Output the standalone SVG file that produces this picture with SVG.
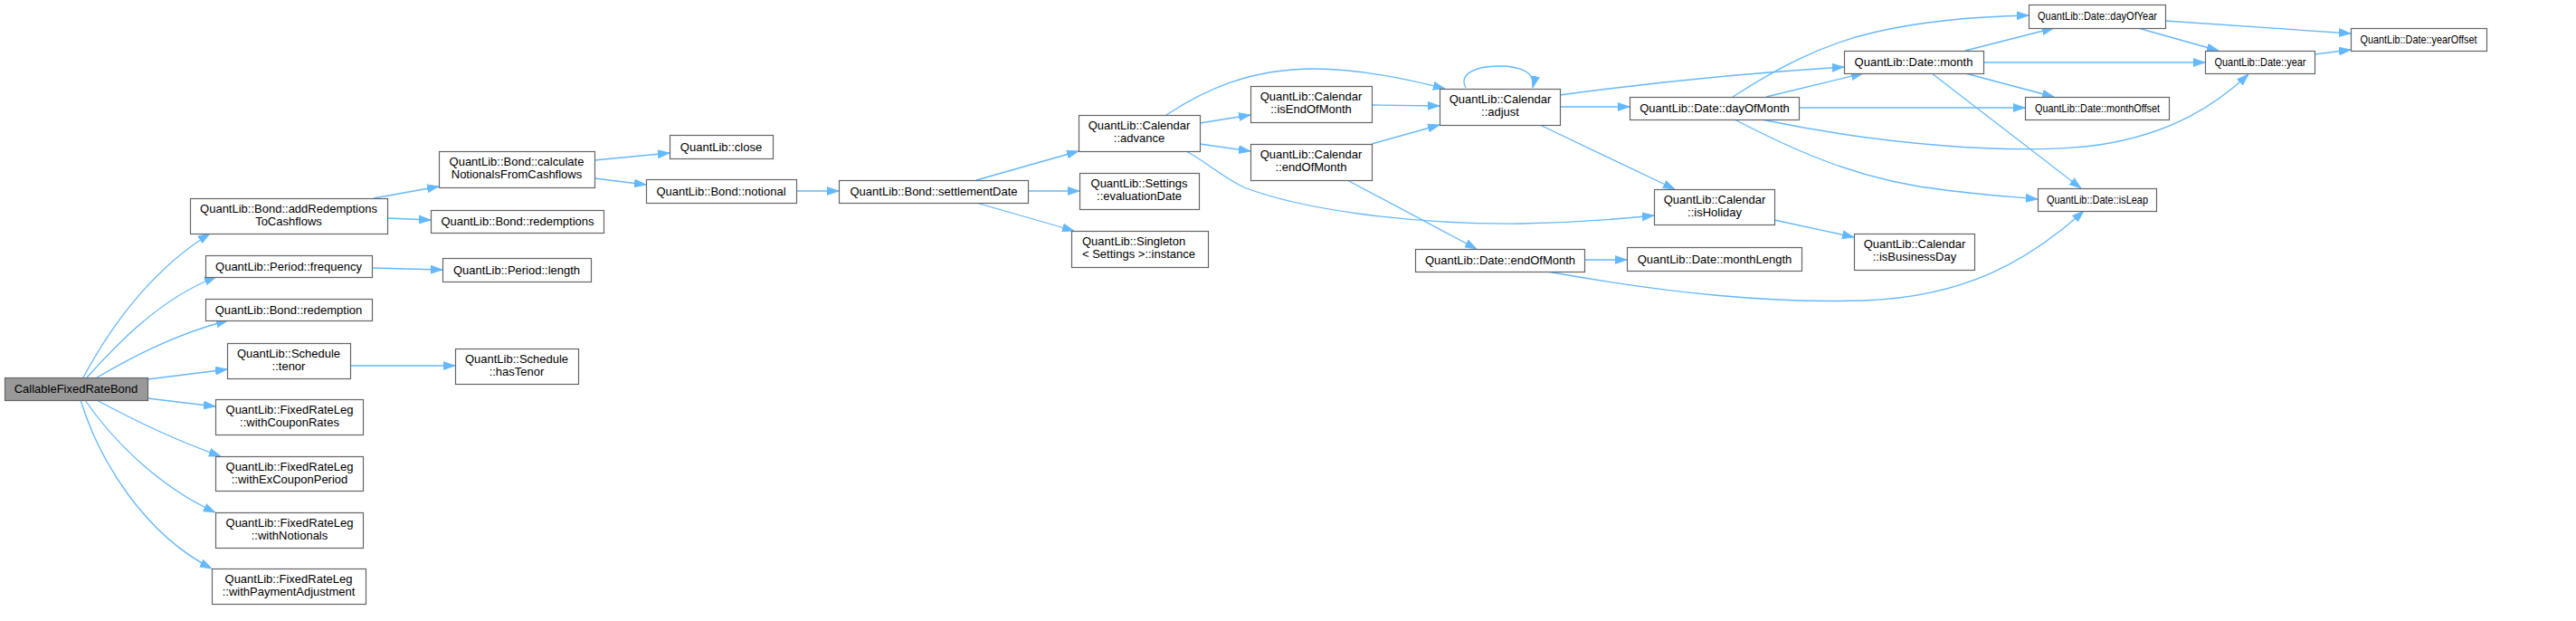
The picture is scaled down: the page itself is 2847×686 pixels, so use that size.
<svg xmlns="http://www.w3.org/2000/svg" width="2847" height="686" viewBox="0 0 2847 686">
<style>
.node rect{fill:#fff;stroke:#666;stroke-width:1.2}
.node.main rect{fill:#999}
.node text{font-family:"Liberation Sans",Arial,sans-serif;font-size:13px;text-anchor:middle;fill:#000}
.node text.l{text-anchor:start}
.edges path{fill:none;stroke:#63b8ff;stroke-width:1.3;marker-end:url(#arr)}
</style>
<defs>
<marker id="arr" markerUnits="userSpaceOnUse" markerWidth="13" markerHeight="10" refX="13" refY="5" orient="auto" viewBox="0 0 13 10">
<path d="M0,0.5 L13,5 L0,9.5 Z" fill="#63b8ff" stroke="#63b8ff" stroke-width="0.8"/>
</marker>
</defs>
<rect width="2847" height="686" fill="#fff"/>
<g class="edges" id="edges">
<path d="M92,417 C120,365 165,300 232,258"/>
<path d="M96,417 C125,385 175,330 239,306"/>
<path d="M107,417 C140,398 190,370 252,354"/>
<path d="M163,419 L251,408"/>
<path d="M163,440 L238,449"/>
<path d="M107,442 C140,460 190,485 244,504"/>
<path d="M94,442 C120,480 170,535 238,566"/>
<path d="M89,442 C110,510 160,590 234,628"/>
<path d="M413,219 L485,206"/>
<path d="M428,241 L476,243"/>
<path d="M411,296 L489,298"/>
<path d="M387,404 L503,404"/>
<path d="M657,177 L740,169"/>
<path d="M657,197 L714,204"/>
<path d="M880,211 L927,211"/>
<path d="M1079,199 L1192,167"/>
<path d="M1136,211 L1193,211"/>
<path d="M1079,224 L1187,255"/>
<path d="M1289,127 C1330,100 1380,76 1453,76 C1500,76 1550,86 1597,98"/>
<path d="M1326,136 L1382,127"/>
<path d="M1326,159 L1382,167"/>
<path d="M1311,167 C1335,180 1350,195 1375,207 C1440,232 1560,248 1680,247 C1740,246 1790,242 1828,238"/>
<path d="M1516,116 L1591,117"/>
<path d="M1516,159 L1591,138"/>
<path d="M1489,199 L1632,275"/>
<path d="M1620,97 C1612,82 1630,73 1657,73 C1680,73 1698,80 1694,97"/>
<path d="M1724,105 C1820,92 1940,80 2038,74"/>
<path d="M1724,118 L1801,118"/>
<path d="M1702,138 L1851,209"/>
<path d="M1751,287 L1798,287"/>
<path d="M1710,300 C1850,325 1960,335 2060,332 C2170,328 2240,290 2303,233"/>
<path d="M1961,243 L2049,262"/>
<path d="M1915,107 C1960,78 2010,50 2070,36 C2130,22 2190,18 2242,17"/>
<path d="M1952,107 L2059,81"/>
<path d="M1988,119 L2238,119"/>
<path d="M1947,132 C2080,160 2230,172 2320,160 C2400,148 2450,115 2485,82"/>
<path d="M1917,132 C1990,170 2060,200 2150,210 C2190,215 2220,217 2252,220"/>
<path d="M2172,56 L2270,31"/>
<path d="M2192,69 L2437,69"/>
<path d="M2172,81 L2270,107"/>
<path d="M2135,81 L2300,208"/>
<path d="M2393,23 L2598,37"/>
<path d="M2363,31 L2452,56"/>
<path d="M2558,60 L2598,55"/>
</g>
<g class="node main" id="n0"><rect x="5.5" y="417.5" width="158" height="25"/><text x="84" y="434">CallableFixedRateBond</text></g>
<g class="node" id="n1"><rect x="210.5" y="219.5" width="218" height="39"/><text x="319" y="235">QuantLib::Bond::addRedemptions</text><text x="319" y="249">ToCashflows</text></g>
<g class="node" id="n2"><rect x="485.5" y="167.5" width="172" height="40"/><text x="571" y="183">QuantLib::Bond::calculate</text><text x="571" y="197">NotionalsFromCashflows</text></g>
<g class="node" id="n3"><rect x="740.5" y="149.5" width="114" height="26"/><text x="797" y="167">QuantLib::close</text></g>
<g class="node" id="n4"><rect x="714.5" y="198.5" width="166" height="26"/><text x="797" y="216">QuantLib::Bond::notional</text></g>
<g class="node" id="n5"><rect x="927.5" y="199.5" width="209" height="25"/><text x="1032" y="216">QuantLib::Bond::settlementDate</text></g>
<g class="node" id="n6"><rect x="1192.5" y="127.5" width="134" height="40"/><text x="1259" y="143">QuantLib::Calendar</text><text x="1259" y="157">::advance</text></g>
<g class="node" id="n7"><rect x="1382.5" y="95.5" width="134" height="40"/><text x="1449" y="111">QuantLib::Calendar</text><text x="1449" y="125">::isEndOfMonth</text></g>
<g class="node" id="n8"><rect x="1591.5" y="98.5" width="133" height="40"/><text x="1658" y="114">QuantLib::Calendar</text><text x="1658" y="128">::adjust</text></g>
<g class="node" id="n9"><rect x="2038.5" y="56.5" width="154" height="25"/><text x="2115" y="73">QuantLib::Date::month</text></g>
<g class="node" id="n10"><rect x="2242.5" y="5.5" width="151" height="26"/><text x="2318" y="22" textLength="132" lengthAdjust="spacingAndGlyphs">QuantLib::Date::dayOfYear</text></g>
<g class="node" id="n11"><rect x="2437.5" y="56.5" width="121" height="25"/><text x="2498" y="73" textLength="101" lengthAdjust="spacingAndGlyphs">QuantLib::Date::year</text></g>
<g class="node" id="n12"><rect x="2598.5" y="31.5" width="150" height="25"/><text x="2673" y="48" textLength="129" lengthAdjust="spacingAndGlyphs">QuantLib::Date::yearOffset</text></g>
<g class="node" id="n13"><rect x="2238.5" y="107.5" width="159" height="25"/><text x="2318" y="124" textLength="138" lengthAdjust="spacingAndGlyphs">QuantLib::Date::monthOffset</text></g>
<g class="node" id="n14"><rect x="2252.5" y="208.5" width="131" height="25"/><text x="2318" y="225" textLength="112" lengthAdjust="spacingAndGlyphs">QuantLib::Date::isLeap</text></g>
<g class="node" id="n15"><rect x="1801.5" y="107.5" width="187" height="25"/><text x="1895" y="124">QuantLib::Date::dayOfMonth</text></g>
<g class="node" id="n16"><rect x="1828.5" y="209.5" width="133" height="39"/><text x="1895" y="225">QuantLib::Calendar</text><text x="1895" y="239">::isHoliday</text></g>
<g class="node" id="n17"><rect x="2049.5" y="258.5" width="133" height="40"/><text x="2116" y="274">QuantLib::Calendar</text><text x="2116" y="288">::isBusinessDay</text></g>
<g class="node" id="n18"><rect x="1382.5" y="159.5" width="134" height="40"/><text x="1449" y="175">QuantLib::Calendar</text><text x="1449" y="189">::endOfMonth</text></g>
<g class="node" id="n19"><rect x="1564.5" y="275.5" width="187" height="25"/><text x="1658" y="292">QuantLib::Date::endOfMonth</text></g>
<g class="node" id="n20"><rect x="1798.5" y="273.5" width="193" height="26"/><text x="1895" y="291">QuantLib::Date::monthLength</text></g>
<g class="node" id="n21"><rect x="1193.5" y="191.5" width="132" height="40"/><text x="1259" y="207">QuantLib::Settings</text><text x="1259" y="221">::evaluationDate</text></g>
<g class="node" id="n22"><rect x="1184.5" y="255.5" width="151" height="40"/><text class="l" x="1196" y="271">QuantLib::Singleton</text><text class="l" x="1196" y="285">&lt; Settings &gt;::instance</text></g>
<g class="node" id="n23"><rect x="476.5" y="232.5" width="191" height="25"/><text x="572" y="249">QuantLib::Bond::redemptions</text></g>
<g class="node" id="n24"><rect x="227.5" y="282.5" width="184" height="24"/><text x="319" y="299">QuantLib::Period::frequency</text></g>
<g class="node" id="n25"><rect x="489.5" y="285.5" width="164" height="26"/><text x="571" y="303">QuantLib::Period::length</text></g>
<g class="node" id="n26"><rect x="227.5" y="330.5" width="184" height="24"/><text x="319" y="347">QuantLib::Bond::redemption</text></g>
<g class="node" id="n27"><rect x="251.5" y="379.5" width="136" height="39"/><text x="319" y="395">QuantLib::Schedule</text><text x="319" y="409">::tenor</text></g>
<g class="node" id="n28"><rect x="503.5" y="385.5" width="136" height="39"/><text x="571" y="401">QuantLib::Schedule</text><text x="571" y="415">::hasTenor</text></g>
<g class="node" id="n29"><rect x="238.5" y="441.5" width="163" height="39"/><text x="320" y="457">QuantLib::FixedRateLeg</text><text x="320" y="471">::withCouponRates</text></g>
<g class="node" id="n30"><rect x="238.5" y="504.5" width="163" height="38"/><text x="320" y="520">QuantLib::FixedRateLeg</text><text x="320" y="534">::withExCouponPeriod</text></g>
<g class="node" id="n31"><rect x="238.5" y="566.5" width="163" height="39"/><text x="320" y="582">QuantLib::FixedRateLeg</text><text x="320" y="596">::withNotionals</text></g>
<g class="node" id="n32"><rect x="234.5" y="628.5" width="170" height="39"/><text x="319" y="644">QuantLib::FixedRateLeg</text><text x="319" y="658">::withPaymentAdjustment</text></g>
</svg>
